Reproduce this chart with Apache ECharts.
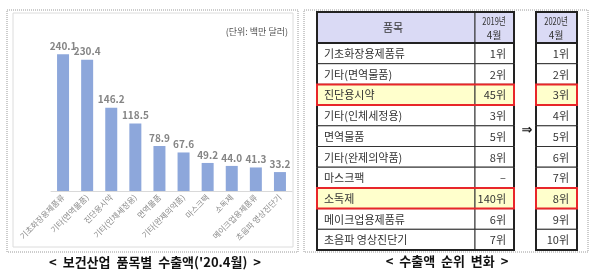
<!DOCTYPE html>
<html>
<head>
<meta charset="utf-8">
<script src="https://cdn.jsdelivr.net/npm/echarts@6/dist/echarts.min.js"></script>
<style>
  html, body { margin: 0; padding: 0; background: #fff; }
  #chart { width: 596px; height: 274px; }
</style>
</head>
<body>
<div id="chart"></div>
<script>
// 보건산업 품목별 수출액 ('20.4월, 단위: 백만 달러)
const exportItems = ['기초화장용제품류', '기타(면역물품)', '진단용시약', '기타(인체세정용)', '면역물품',
  '기타(완제의약품)', '마스크팩', '소독제', '메이크업용제품류', '초음파 영상진단기'];
const exportValues = [240.1, 230.4, 146.2, 118.5, 78.9, 67.6, 49.2, 44.0, 41.3, 33.2];

// 수출액 순위 변화
const rankItems = ['기초화장용제품류', '기타(면역물품)', '진단용시약', '기타(인체세정용)', '면역물품',
  '기타(완제의약품)', '마스크팩', '소독제', '메이크업용제품류', '초음파 영상진단기'];
const rank2019 = ['1위', '2위', '45위', '3위', '5위', '8위', '–', '140위', '6위', '7위'];
const rank2020 = ['1위', '2위', '3위', '4위', '5위', '6위', '7위', '8위', '9위', '10위'];
const highlightRows = [2, 7];

const FONT = '"Noto Sans CJK KR", "Noto Sans", sans-serif';

// 표 열 경계 (grid 1 의 x축 단위)
const C_NAME = 158, C_19 = 197, C_20S = 219, C_20E = 260;

const chart = echarts.init(document.getElementById('chart'));

function renderRow(params, api) {
  const i = params.dataIndex;
  const h = api.size([0, 1])[1];
  const cy = api.coord([0, i])[1];
  const y0 = cy - h / 2;
  const X = v => api.coord([v, i])[0];
  const x0 = X(0), x1 = X(C_NAME), x2 = X(C_19), x3 = X(C_20S), x4 = X(C_20E);
  const hi = highlightRows.indexOf(i) >= 0;
  const fill = hi ? '#FFFFCC' : '#fff';
  const cell = (a, b) => ({
    type: 'rect', shape: { x: a, y: y0, width: b - a, height: h },
    style: { fill: fill, stroke: '#333', lineWidth: 1 }
  });
  const txt = (t, x, align) => ({
    type: 'text', x: x, y: cy + 0.5, z2: 3,
    style: { text: t, fill: '#333', font: '11px ' + FONT, align: align, verticalAlign: 'middle' }
  });
  const vline = x => ({
    type: 'line', z2: 5, shape: { x1: x, y1: y0, x2: x, y2: y0 + h },
    style: { stroke: '#222', lineWidth: 2 }
  });
  const children = [
    cell(x0, x1), cell(x1, x2), cell(x3, x4),
    txt(rankItems[i], x0 + 7, 'left'),
    txt(rank2019[i], x2 - 8, 'right'),
    txt(rank2020[i], x4 - 8, 'right'),
    vline(x0), vline(x2), vline(x3), vline(x4)
  ];
  if (i === rankItems.length - 1) {
    [[x0, x2], [x3, x4]].forEach(s => children.push({
      type: 'line', z2: 5, shape: { x1: s[0] - 1, y1: y0 + h, x2: s[1] + 1, y2: y0 + h },
      style: { stroke: '#222', lineWidth: 2 }
    }));
  }
  if (hi) {
    [[x0, x2], [x3, x4]].forEach(s => children.push({
      type: 'rect', z2: 10, shape: { x: s[0], y: y0, width: s[1] - s[0], height: h },
      style: { fill: null, stroke: '#E8262A', lineWidth: 2 }
    }));
  }
  return { type: 'group', children: children };
}

chart.setOption({
  backgroundColor: '#fff',
  animation: false,
  grid: [
    { left: 51, right: 304, top: 20, bottom: 83 },
    { left: 317, width: 260, top: 43, bottom: 24 }
  ],
  xAxis: [{
    type: 'category',
    data: exportItems,
    axisLine: { lineStyle: { color: '#d9d9d9' } },
    axisTick: { show: false },
    axisLabel: { interval: 0, rotate: 45, fontSize: 8, color: '#8c8c8c', margin: 5, fontFamily: FONT }
  }, {
    type: 'value', gridIndex: 1, min: 0, max: C_20E, show: false
  }],
  yAxis: [{
    type: 'value', min: 0, max: 300, show: false
  }, {
    type: 'category', gridIndex: 1, data: rankItems, inverse: true, show: false
  }],
  series: [{
    type: 'bar',
    data: exportValues,
    barWidth: 12,
    itemStyle: { color: '#8DA7DB' },
    label: {
      show: true, position: 'top', distance: 3,
      formatter: p => p.value.toFixed(1),
      fontSize: 10, fontWeight: 600, color: '#858585', fontFamily: FONT
    }
  }, {
    type: 'custom',
    xAxisIndex: 1, yAxisIndex: 1,
    data: rankItems.map((n, i) => [0, i]),
    encode: { x: 0, y: 1 },
    renderItem: renderRow
  }],
  graphic: [
    // 패널 테두리
    { type: 'rect', shape: { x: 7, y: 10, width: 291, height: 242 },
      style: { fill: null, stroke: '#9a9a9a', lineWidth: 1, lineDash: [1, 1] } },
    { type: 'rect', shape: { x: 13, y: 13, width: 280, height: 234 },
      style: { fill: null, stroke: '#dcdcdc', lineWidth: 1 } },
    { type: 'rect', shape: { x: 304, y: 10, width: 284, height: 242 },
      style: { fill: null, stroke: '#9a9a9a', lineWidth: 1, lineDash: [1, 1] } },
    { type: 'text', x: 288, y: 32,
      style: { text: '(단위: 백만 달러)', font: '9px ' + FONT, fill: '#555', align: 'right', verticalAlign: 'middle' } },
    // 표 머리
    { type: 'rect', z: 1, shape: { x: 317, y: 12, width: 158, height: 31 },
      style: { fill: '#DADAF5', stroke: '#333', lineWidth: 1 } },
    { type: 'rect', z: 1, shape: { x: 475, y: 12, width: 39, height: 31 },
      style: { fill: '#DADAF5', stroke: '#333', lineWidth: 1 } },
    { type: 'rect', z: 1, shape: { x: 536, y: 12, width: 41, height: 31 },
      style: { fill: '#DADAF5', stroke: '#333', lineWidth: 1 } },
    { type: 'polyline', z: 10, shape: { points: [[317, 43], [317, 12], [514, 12], [514, 43]] },
      style: { fill: null, stroke: '#222', lineWidth: 2 } },
    { type: 'polyline', z: 10, shape: { points: [[536, 43], [536, 12], [577, 12], [577, 43]] },
      style: { fill: null, stroke: '#222', lineWidth: 2 } },
    { type: 'line', z: 10, shape: { x1: 316, y1: 43, x2: 515, y2: 43 }, style: { stroke: '#222', lineWidth: 2 } },
    { type: 'line', z: 10, shape: { x1: 535, y1: 43, x2: 578, y2: 43 }, style: { stroke: '#222', lineWidth: 2 } },
    { type: 'text', z: 11, x: 393, y: 28,
      style: { text: '품목', font: '11px ' + FONT, fill: '#333', align: 'center', verticalAlign: 'middle' } },
    { type: 'text', z: 11, x: 494, y: 21, scaleX: 0.75,
      style: { text: '2019년', font: '10px ' + FONT, fill: '#333', align: 'center', verticalAlign: 'middle' } },
    { type: 'text', z: 11, x: 494, y: 35,
      style: { text: '4월', font: '10px ' + FONT, fill: '#333', align: 'center', verticalAlign: 'middle' } },
    { type: 'text', z: 11, x: 556, y: 21, scaleX: 0.75,
      style: { text: '2020년', font: '10px ' + FONT, fill: '#333', align: 'center', verticalAlign: 'middle' } },
    { type: 'text', z: 11, x: 556, y: 35,
      style: { text: '4월', font: '10px ' + FONT, fill: '#333', align: 'center', verticalAlign: 'middle' } },
    { type: 'text', x: 527, y: 131,
      style: { text: '⇒', font: 'bold 13px "DejaVu Sans"', fill: '#111', align: 'center', verticalAlign: 'middle' } },
    // 캡션
    { type: 'text', x: 155, y: 262,
      style: { text: "<  보건산업  품목별  수출액('20.4월)  >", font: 'bold 13px ' + FONT, fill: '#111',
        align: 'center', verticalAlign: 'middle' } },
    { type: 'text', x: 447, y: 261,
      style: { text: '<  수출액  순위  변화  >', font: 'bold 13px ' + FONT, fill: '#111',
        align: 'center', verticalAlign: 'middle' } }
  ]
});
</script>
</body>
</html>
